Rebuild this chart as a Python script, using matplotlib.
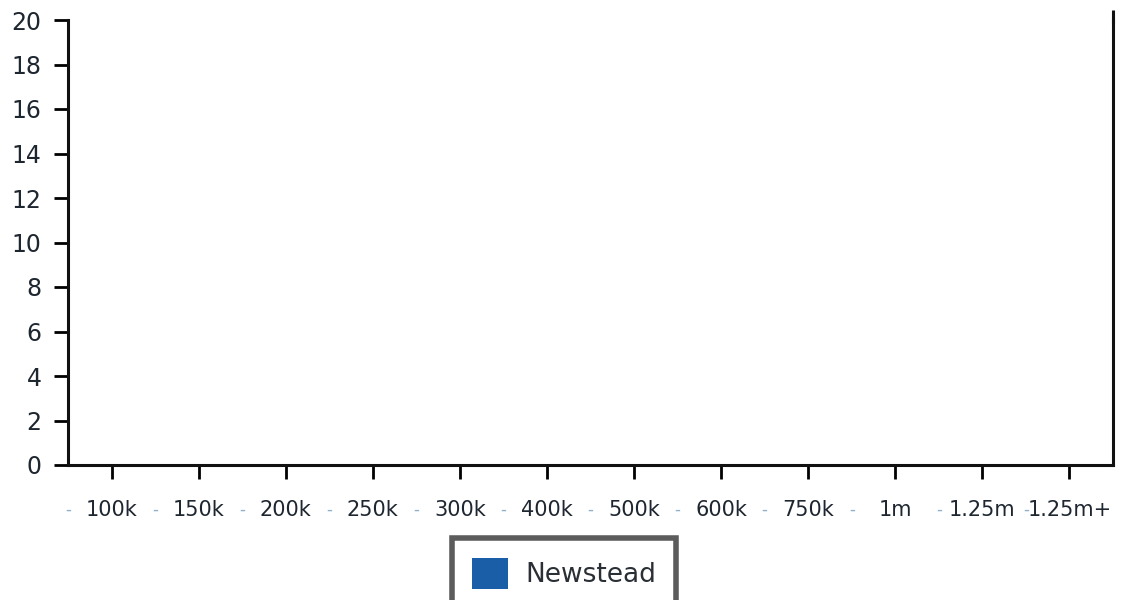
import matplotlib
matplotlib.use("Agg")
import matplotlib.pyplot as plt
import numpy as np

categories = ["100k", "150k", "200k", "250k", "300k", "400k", "500k",
              "600k", "750k", "1m", "1.25m", "1.25m+"]
series_name = "Newstead"
values = [0, 0, 0, 0, 0, 0, 0, 0, 0, 0, 0, 0]
y_ticks = [0, 2, 4, 6, 8, 10, 12, 14, 16, 18, 20]

plt.rcParams['font.family'] = ['DejaVu Sans']

fig = plt.figure(figsize=(11.23, 6.0), dpi=100)
ax = fig.add_axes([68/1123, 1 - 465/600, (1113-68)/1123, (465-20)/600])

x = np.arange(len(categories))
ax.bar(x, values, width=0.6, color="#1a5ea8", label=series_name)

ax.set_xlim(-0.5, len(categories) - 0.5)
ax.set_ylim(0, 20)
ax.set_yticks(y_ticks)
ax.set_yticklabels([str(t) for t in y_ticks], fontsize=17, color="#1e2630")
ax.set_xticks(x)
ax.set_xticklabels(categories, fontsize=15, color="#1e2630")
# light separators between category labels
ax.set_xticks(x - 0.5, minor=True)
ax.set_xticklabels(["-"] * len(categories), minor=True, fontsize=12, color="#8fb0cc")
ax.tick_params(axis="x", which="minor", length=0, pad=25.5)

ax.tick_params(axis="y", which="major", length=10, width=2, pad=9, direction="out")
ax.tick_params(axis="x", which="major", length=10, width=2, pad=15, direction="out")

for s in ["left", "bottom", "right"]:
    ax.spines[s].set_linewidth(2.2)
    ax.spines[s].set_color("#111111")
ax.spines["top"].set_visible(False)
# right border runs a little above the plot area
ax.plot([1, 1], [0.99, 1.022], transform=ax.transAxes, color="#111111",
        lw=2.2, clip_on=False, solid_capstyle="butt")

leg = fig.legend(loc="upper center", bbox_to_anchor=(564/1123, 1 - 538/600),
                 fontsize=19, frameon=True, fancybox=False, handlelength=1.36,
                 handleheight=1.44, borderpad=0.75, handletextpad=0.65,
                 borderaxespad=0, labelcolor="#2a2f36")
leg.get_frame().set_edgecolor("#333333")
leg.get_frame().set_linewidth(4)

fig.savefig("out.png", dpi=100)
